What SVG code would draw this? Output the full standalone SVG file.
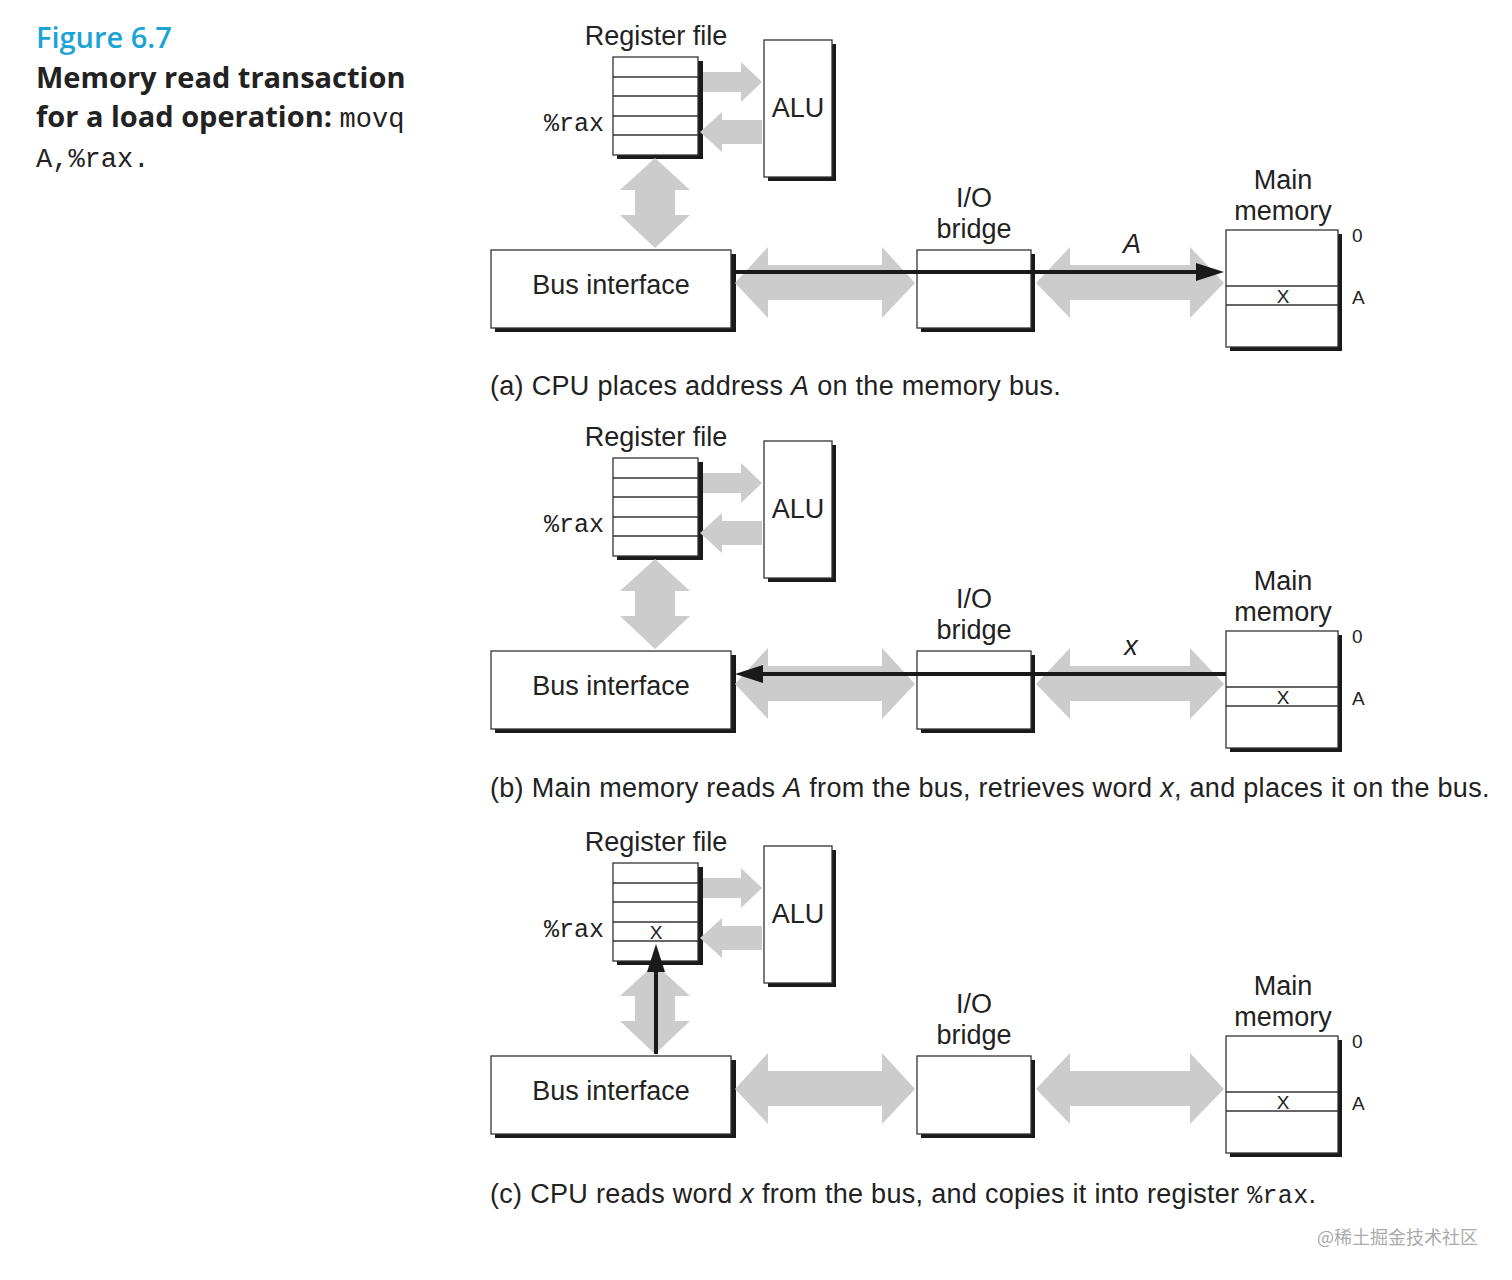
<svg xmlns="http://www.w3.org/2000/svg" width="1512" height="1280" viewBox="0 0 1512 1280">
<style>
.t{font-family:"Liberation Sans",Arial,sans-serif;font-size:27px;fill:#222}
.c{font-family:"Liberation Sans",Arial,sans-serif;font-size:27px;fill:#222;letter-spacing:0.3px}
.m{font-family:"Liberation Mono","Courier New",monospace;font-size:25px;fill:#222}
.s{font-family:"Liberation Sans",Arial,sans-serif;font-size:19px;fill:#222}
.box{fill:#fff;stroke:#333;stroke-width:1.3}
.sh{fill:#1a1a1a}
.g{fill:#cccccc}
.ln{stroke:#333;stroke-width:1.3}
.h{font-family:"Open Sans","Liberation Sans",sans-serif;font-weight:700;font-size:29px;fill:#222}
</style>
<defs>
<g id="panel">
  <text class="t" x="656" y="45" text-anchor="middle">Register file</text>
  <text class="m" x="544" y="131">%rax</text>
  <rect class="sh" x="617" y="61" width="86" height="98"/>
  <rect class="box" x="613" y="57" width="85" height="98"/>
  <line class="ln" x1="613" y1="77" x2="698" y2="77"/>
  <line class="ln" x1="613" y1="96" x2="698" y2="96"/>
  <line class="ln" x1="613" y1="116" x2="698" y2="116"/>
  <line class="ln" x1="613" y1="135" x2="698" y2="135"/>
  <rect class="sh" x="768" y="44" width="68" height="137"/>
  <rect class="box" x="764" y="40" width="68" height="137"/>
  <text class="t" x="798" y="117" text-anchor="middle">ALU</text>
  <polygon class="g" points="703,72 741,72 741,62 762,82 741,102 741,92 703,92"/>
  <polygon class="g" points="762,120 722,120 722,112 700,132 722,152 722,144 762,144"/>
  <polygon class="g" points="655,158 690,190 675,190 675,215 690,215 655,248 620,215 635,215 635,190 620,190"/>
  <rect class="sh" x="495" y="254" width="241" height="78"/>
  <rect class="box" x="491" y="250" width="240" height="78"/>
  <text class="t" x="611" y="294" text-anchor="middle">Bus interface</text>
  <polygon class="g" points="735,283 768,247 768,265 882,265 882,247 915,283 882,318 882,300 768,300 768,318"/>
  <rect class="sh" x="921" y="254" width="114" height="78"/>
  <rect class="box" x="917" y="250" width="114" height="78"/>
  <text class="t" x="974" y="207" text-anchor="middle">I/O</text>
  <text class="t" x="974" y="238" text-anchor="middle">bridge</text>
  <polygon class="g" points="1036,283 1070,247 1070,265 1190,265 1190,247 1224,283 1190,318 1190,300 1070,300 1070,318"/>
  <rect class="sh" x="1230" y="234" width="112" height="117"/>
  <rect class="box" x="1226" y="230" width="112" height="117"/>
  <line class="ln" x1="1226" y1="286" x2="1338" y2="286"/>
  <line class="ln" x1="1226" y1="305" x2="1338" y2="305"/>
  <text class="s" x="1283" y="303" text-anchor="middle">X</text>
  <text class="t" x="1283" y="189" text-anchor="middle">Main</text>
  <text class="t" x="1283" y="220" text-anchor="middle">memory</text>
  <text class="s" x="1352" y="242">0</text>
  <text class="s" x="1352" y="304">A</text>
</g>
</defs>
<text x="36" y="48" style="font-family:'Open Sans','Liberation Sans',sans-serif;font-weight:600;font-size:29px;fill:#1ba3d6">Figure 6.7</text>
<text class="h" x="36" y="88">Memory read transaction</text>
<text class="h" x="36" y="127">for a load operation: <tspan class="m" style="font-weight:400;font-size:27px">movq</tspan></text>
<text class="m" x="36" y="167" style="font-size:27px">A,%rax.</text>

<g id="panelA"><use href="#panel"/>
  <text class="c" x="490" y="395">(a) CPU places address <tspan font-style="italic">A</tspan> on the memory bus.</text>
  <text class="t" x="1132" y="253" text-anchor="middle" font-style="italic">A</text>
</g>
<g id="panelB" transform="translate(0,401)"><use href="#panel"/>
  <text class="c" x="490" y="396">(b) Main memory reads <tspan font-style="italic">A</tspan> from the bus, retrieves word <tspan font-style="italic">x</tspan>, and places it on the bus.</text>
  <text class="t" x="1131" y="254" text-anchor="middle" font-style="italic">x</text>
</g>
<g id="panelC" transform="translate(0,806)"><use href="#panel"/>
  <text class="s" x="656" y="133" text-anchor="middle">X</text>
  <text class="c" x="490" y="397">(c) CPU reads word <tspan font-style="italic">x</tspan> from the bus, and copies it into register <tspan class="m">%rax</tspan>.</text>
</g>
<g id="connectors" fill="#1a1a1a" stroke="#1a1a1a">
  <line x1="735" y1="272" x2="1196" y2="272" stroke-width="4"/>
  <polygon points="1196,263 1224,272 1196,281" stroke="none"/>
  <line x1="762" y1="674" x2="1226" y2="674" stroke-width="4"/>
  <polygon points="763,665 735,674 763,683" stroke="none"/>
  <line x1="656" y1="1054" x2="656" y2="970" stroke-width="4"/>
  <polygon points="647,972 656,944 665,972" stroke="none"/>
</g>
<text x="1478" y="1244" text-anchor="end" style="font-family:'Noto Sans CJK SC',sans-serif;font-size:18px;fill:#aaa">@稀土掘金技术社区</text>
</svg>
